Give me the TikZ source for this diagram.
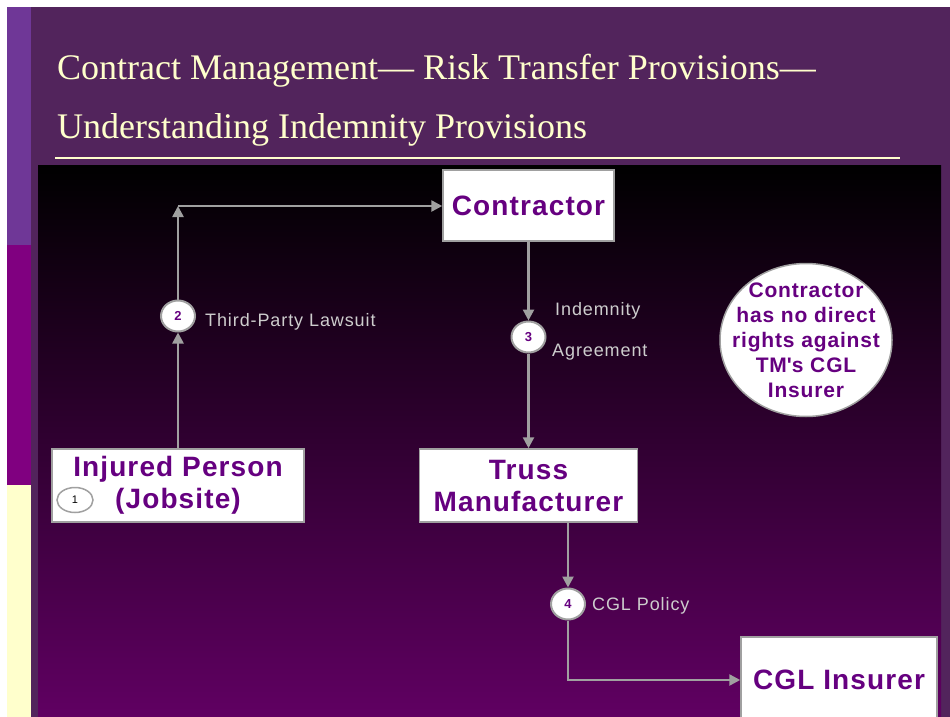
\documentclass[tikz,border=0pt]{standalone}
\usepackage{fontspec}
\setmainfont{Liberation Sans}
\newfontfamily\titlefont{Liberation Serif}
\usetikzlibrary{arrows.meta,shapes.geometric}
\definecolor{slidebg}{RGB}{82,36,92}
\definecolor{bandtop}{RGB}{111,55,151}
\definecolor{bandmid}{RGB}{128,0,128}
\definecolor{cream}{RGB}{255,255,204}
\definecolor{boxtext}{RGB}{102,0,128}
\definecolor{linegrey}{RGB}{160,160,160}
\definecolor{labelgrey}{RGB}{205,205,205}
\definecolor{panelbot}{RGB}{96,0,98}

\begin{document}
\begin{tikzpicture}[x=1pt,y=-1pt,
    party/.style={draw=linegrey, line width=1.5pt, fill=white, text=boxtext,
      font=\fontsize{28}{32}\selectfont\bfseries\addfontfeature{LetterSpace=4},
      align=center},
    stepmark/.style={ellipse, draw=linegrey, line width=2pt, fill=white,
      text=boxtext, font=\fontsize{13}{13}\selectfont\bfseries,
      minimum width=34pt, minimum height=31pt, inner sep=0pt},
    flow/.style={draw=linegrey, line width=2.5pt,
      -{Triangle[width=11pt,length=11pt]}},
    flowlabel/.style={text=labelgrey,
      font=\fontsize{18}{18}\selectfont\addfontfeature{LetterSpace=5},
      anchor=west, inner sep=0pt}]
    \fill[white] (0,0) rectangle (950,717);
    \useasboundingbox (0,0) rectangle (950,717);
    \fill[slidebg] (7,7) rectangle (950,717);
    \fill[bandtop] (7,7) rectangle (31,245);
    \fill[bandmid] (7,245) rectangle (31,485);
    \fill[cream] (7,485) rectangle (31,717);

    \node[anchor=base west, inner sep=0pt, text=cream,
      font=\titlefont\fontsize{36}{36}\selectfont] (title1) at (57,80)
      {Contract Management— Risk Transfer Provisions—};
    \node[anchor=base west, inner sep=0pt, text=cream,
      font=\titlefont\fontsize{36}{36}\selectfont] (title2) at (57,138)
      {Understanding Indemnity Provisions};
    \draw[cream, line width=2pt] (55,158) -- (900,158);

    \shade[top color=black, bottom color=panelbot] (38,165) rectangle (941,717);

    \node[party, minimum width=171pt, minimum height=71pt] (contractor)
      at (528.5,205.5) {Contractor};
    \node[party, minimum width=252pt, minimum height=73pt] (injured)
      at (178,485.5) {Injured Person\\(Jobsite)};
    \node[party, minimum width=218pt, minimum height=73pt] (truss)
      at (528.5,485.5) {Truss\\Manufacturer};
    \node[party, minimum width=196pt, minimum height=86pt] (insurer)
      at (839,680) {CGL Insurer};

    \node[ellipse, draw=linegrey, line width=1.5pt, fill=white,
      minimum width=36pt, minimum height=25pt, inner sep=0pt,
      font=\fontsize{11}{11}\selectfont] (s1) at (75,500) {1};
    \node[stepmark] (s2) at (178,316) {2};
    \node[stepmark] (s3) at (528.5,337) {3};
    \node[stepmark] (s4) at (568,604) {4};
    \coordinate (bend) at (178,206);

    \draw[flow] (injured) -- (s2);
    \draw[flow] (s2) -- (bend);
    \draw[flow] (bend) -- (bend -| contractor.west);
    \draw[flow] (contractor) -- (s3);
    \draw[flow] (s3) -- (truss);
    \draw[flow] (s4 |- truss.south) -- (s4);
    \draw[flow] (s4) |- (insurer);

    \node[flowlabel] (lawsuit) at (205,322) {Third-Party Lawsuit};
    \node[flowlabel] (indemnity) at (555,311) {Indemnity};
    \node[flowlabel] (agreement) at (552,352) {Agreement};
    \node[flowlabel] (policy) at (592,606) {CGL Policy};

    \node[ellipse, draw=linegrey, line width=1.5pt, fill=white,
      minimum width=172pt, minimum height=153pt, inner sep=0pt] (note)
      at (806,340) {};
    \node[text=boxtext, align=center, inner sep=0pt,
      font=\fontsize{21}{25}\selectfont\bfseries\addfontfeature{LetterSpace=4}]
      (notetext) at (note)
      {Contractor\\has no direct\\rights against\\TM\textquotesingle s CGL\\Insurer};
\end{tikzpicture}
\end{document}
